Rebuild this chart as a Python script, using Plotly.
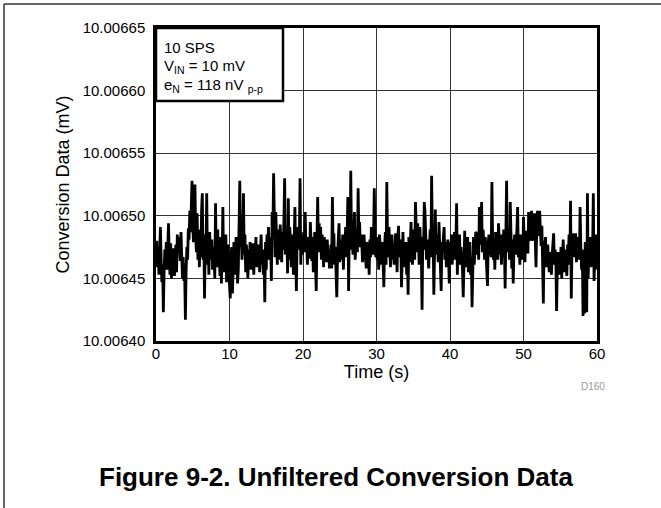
import numpy as np
import plotly.graph_objects as go

# conversion data, offset from 10.0064 mV in units of 1e-6 mV (nV), 10 SPS
seg_00_10 = [67, 80, 59, 75, 53, 86, 91, 65, 47, 61,
             23, 55, 73, 63, 79, 57, 85, 94, 69, 53,
             78, 50, 65, 57, 74, 52, 61, 77, 55, 85,
             71, 83, 75, 64, 87, 59, 50, 67, 48, 53,
             17, 57, 75, 65, 90, 81, 104, 87, 115, 128,
             93, 79, 110, 125, 83, 71, 102, 65, 89, 59,
             81, 67, 104, 118, 65, 85, 34, 75, 69, 118,
             61, 77, 53, 87, 73, 65, 81, 57, 75, 67,
             50, 110, 67, 59, 89, 63, 71, 52, 83, 46,
             67, 107, 55, 73, 61, 85, 47, 65, 77, 55]
seg_10_20 = [40, 34, 67, 75, 38, 61, 79, 53, 71, 83,
             65, 46, 57, 91, 128, 75, 87, 65, 81, 118,
             69, 85, 55, 77, 59, 50, 73, 63, 79, 57,
             67, 61, 78, 53, 71, 65, 83, 59, 74, 63,
             77, 55, 69, 85, 61, 73, 53, 65, 31, 79,
             57, 85, 71, 91, 65, 83, 75, 48, 103, 85,
             134, 75, 67, 103, 81, 61, 89, 75, 65, 93,
             79, 63, 87, 73, 95, 130, 69, 83, 87, 54,
             114, 65, 91, 77, 59, 85, 71, 53, 81, 107,
             67, 40, 83, 91, 73, 79, 130, 61, 85, 69]
seg_20_30 = [75, 87, 71, 103, 73, 79, 61, 83, 69, 66,
             95, 79, 64, 83, 55, 73, 87, 61, 40, 81,
             115, 71, 94, 79, 91, 65, 85, 78, 59, 83,
             67, 75, 63, 81, 67, 73, 58, 65, 77, 58,
             115, 77, 86, 61, 75, 53, 35, 69, 83, 94,
             63, 81, 71, 65, 85, 57, 79, 73, 91, 67,
             83, 115, 40, 87, 73, 136, 79, 85, 69, 91,
             103, 65, 81, 89, 71, 122, 83, 95, 75, 85,
             78, 63, 69, 85, 75, 61, 58, 79, 65, 73,
             53, 81, 67, 91, 75, 69, 83, 122, 87, 67]
seg_30_40 = [75, 65, 83, 57, 85, 73, 69, 61, 79, 65,
             43, 75, 87, 61, 127, 83, 67, 91, 79, 59,
             73, 85, 65, 77, 61, 79, 86, 71, 55, 83,
             92, 67, 75, 81, 43, 69, 87, 59, 75, 65,
             79, 53, 71, 37, 83, 63, 77, 95, 67, 61,
             89, 75, 65, 111, 79, 71, 94, 85, 61, 91,
             77, 69, 25, 83, 73, 111, 103, 87, 65, 81,
             71, 58, 75, 89, 67, 132, 81, 85, 37, 77,
             105, 69, 85, 79, 63, 95, 75, 67, 40, 79,
             71, 83, 91, 65, 79, 59, 73, 81, 67, 46]
seg_40_50 = [79, 67, 85, 61, 75, 71, 87, 65, 77, 110,
             53, 81, 69, 85, 61, 75, 65, 57, 35, 73,
             88, 59, 77, 65, 83, 55, 71, 79, 53, 67,
             27, 75, 83, 61, 73, 87, 86, 69, 81, 65,
             107, 77, 85, 111, 71, 89, 79, 65, 83, 73,
             61, 44, 79, 85, 69, 75, 67, 127, 81, 65,
             79, 57, 87, 73, 83, 65, 94, 75, 69, 85,
             61, 81, 67, 89, 75, 42, 83, 128, 71, 85,
             79, 65, 111, 87, 58, 81, 46, 75, 85, 69,
             77, 89, 107, 67, 81, 61, 85, 73, 79, 65]
seg_50_60 = [99, 76, 63, 88, 72, 84, 70, 103, 80, 92,
             91, 104, 80, 96, 86, 102, 70, 59, 90, 104,
             84, 96, 104, 88, 76, 92, 66, 30, 80, 72,
             83, 59, 73, 77, 65, 55, 71, 63, 53, 69,
             77, 86, 61, 73, 65, 24, 59, 71, 53, 67,
             57, 75, 50, 69, 81, 63, 55, 73, 65, 52,
             77, 69, 85, 61, 112, 34, 75, 86, 67, 81,
             71, 86, 63, 79, 69, 83, 65, 107, 75, 57,
             73, 20, 61, 22, 79, 67, 23, 118, 50, 75,
             65, 83, 59, 79, 71, 118, 48, 65, 85, 57]

offset_nv = seg_00_10 + seg_10_20 + seg_20_30 + seg_30_40 + seg_40_50 + seg_50_60
sample_rate = 10
time_s = np.arange(len(offset_nv)) / sample_rate
conv_mv = 10.0064 + np.array(offset_nv) * 1e-6

x_ticks = [0, 10, 20, 30, 40, 50, 60]
y_ticks = [10.00640, 10.00645, 10.00650, 10.00655, 10.00660, 10.00665]

font_main = "Liberation Sans, Arial, sans-serif"

# plot area in page pixels: x 156..597, y 28..341
def px(x):
    return (x - 156) / 441

def py(y):
    return (341 - y) / 313

fig = go.Figure()
fig.add_trace(go.Scatter(x=time_s, y=conv_mv, mode='lines',
                         line=dict(color='black', width=2.8),
                         hoverinfo='skip'))

fig.update_layout(
    width=661, height=508,
    margin=dict(l=156, r=64, t=28, b=167),
    plot_bgcolor='white', paper_bgcolor='white',
    showlegend=False,
    font=dict(family=font_main, size=15, color='black'),
    xaxis=dict(range=[0, 60], tickvals=x_ticks, ticks='',
               showgrid=True, gridcolor='#333', gridwidth=1,
               showline=True, linecolor='black', linewidth=2.5, mirror=True,
               zeroline=False, ticklabelstandoff=-3,
               title=dict(text='Time (s)', standoff=1)),
    yaxis=dict(range=[10.00640, 10.00665], tickvals=y_ticks, tickformat='.5f',
               ticks='', showgrid=True, gridcolor='#333', gridwidth=1,
               showline=True, linecolor='black', linewidth=2.5, mirror=True,
               zeroline=False, ticklabelstandoff=5,
               title=dict(text='Conversion Data (mV)', standoff=9)),
)

# info box in the top-left corner
fig.add_shape(type='rect', xref='paper', yref='paper',
              x0=0, x1=px(283), y0=py(101), y1=1,
              line=dict(color='black', width=2.5), fillcolor='white', layer='above')
info_lines = ['10 SPS', 'V<sub>IN</sub> = 10 mV', 'e<sub>N</sub> = 118 nV <sub>p-p</sub>']
for text, ypix in zip(info_lines, [47, 66, 85]):
    fig.add_annotation(xref='paper', yref='paper', x=px(162), y=py(ypix),
                       xanchor='left', yanchor='middle', align='left', showarrow=False,
                       text=text, font=dict(size=15))

# page frame (left and top rules)
fig.add_shape(type='line', xref='paper', yref='paper',
              x0=px(4), x1=px(4), y0=py(4), y1=py(510),
              line=dict(color='#333', width=1.5))
fig.add_shape(type='line', xref='paper', yref='paper',
              x0=px(4), x1=px(664), y0=py(4), y1=py(4),
              line=dict(color='#333', width=1.5))

fig.add_annotation(xref='paper', yref='paper', x=px(593), y=py(386),
                   xanchor='center', yanchor='middle',
                   text='D160', showarrow=False, font=dict(size=10, color='#999'))
fig.add_annotation(xref='paper', yref='paper', x=px(336), y=py(477),
                   xanchor='center', yanchor='middle',
                   text='<b>Figure 9-2. Unfiltered Conversion Data</b>', showarrow=False,
                   font=dict(size=26, color='black'))

fig.write_html("out.html", config={'displayModeBar': False},
               post_script="document.body.style.margin='0px';")
